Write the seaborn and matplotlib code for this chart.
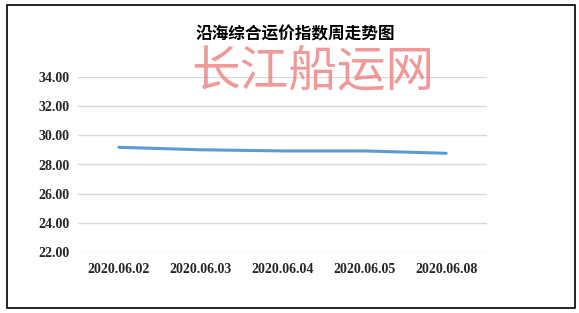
import matplotlib
matplotlib.use("Agg")
import matplotlib.pyplot as plt
import seaborn as sns
import pandas as pd
from matplotlib.patches import Rectangle

dates = ["2020.06.02", "2020.06.03", "2020.06.04", "2020.06.05", "2020.06.08"]
values = [29.18, 29.01, 28.93, 28.93, 28.77]
yticks = [22, 24, 26, 28, 30, 32, 34]
title = "沿海综合运价指数周走势图"
watermark = "长江船运网"

sns.set_theme(style="white")
plt.rcParams['font.family'] = ['Liberation Serif', 'Noto Sans CJK SC', 'DejaVu Sans']

W, H = 579, 313
fig = plt.figure(figsize=(W / 100, H / 100), dpi=100)
fig.patch.set_facecolor("white")
ax = fig.add_axes([78 / W, 1 - 252 / H, (487 - 78) / W, (252 - 77) / H])

df = pd.DataFrame({"date": dates, "value": values})
df["pos"] = range(len(dates))
sns.lineplot(data=df, x="pos", y="value", ax=ax, color="#5B9BD5", linewidth=2.2)

ax.set_xlim(-0.5, len(dates) - 0.5)
ax.set_ylim(22, 34)
ax.set_yticks(yticks)
ax.set_yticklabels([f"{v:.2f}" for v in yticks], fontsize=10, fontweight="bold")
ax.set_xticks(range(len(dates)))
ax.set_xticklabels(dates, fontsize=10, fontweight="bold")
ax.tick_params(axis="x", length=0, pad=8)
ax.tick_params(axis="y", length=0, pad=6)
ax.set_xlabel("")
ax.set_ylabel("")
ax.grid(axis="y", color="#D9D9D9", linewidth=1.0)
ax.set_axisbelow(True)
for s in ax.spines.values():
    s.set_visible(False)

fig.text(295 / W, 1 - 34 / H, title, ha="center", va="center", fontsize=12,
         fontweight="bold", family=["Noto Sans CJK SC", "DejaVu Sans"], color="black")
fig.text(313 / W, 1 - 72 / H, watermark, ha="center", va="center", fontsize=35,
         family=["Noto Sans CJK SC", "DejaVu Sans"], color="#EE8080", alpha=0.8)

fig.add_artist(Rectangle((7 / W, 1 - 308 / H), (575 - 7) / W, (308 - 5) / H,
                         transform=fig.transFigure, fill=False, edgecolor="black", linewidth=1.2))

fig.savefig("out.png", dpi=100)
